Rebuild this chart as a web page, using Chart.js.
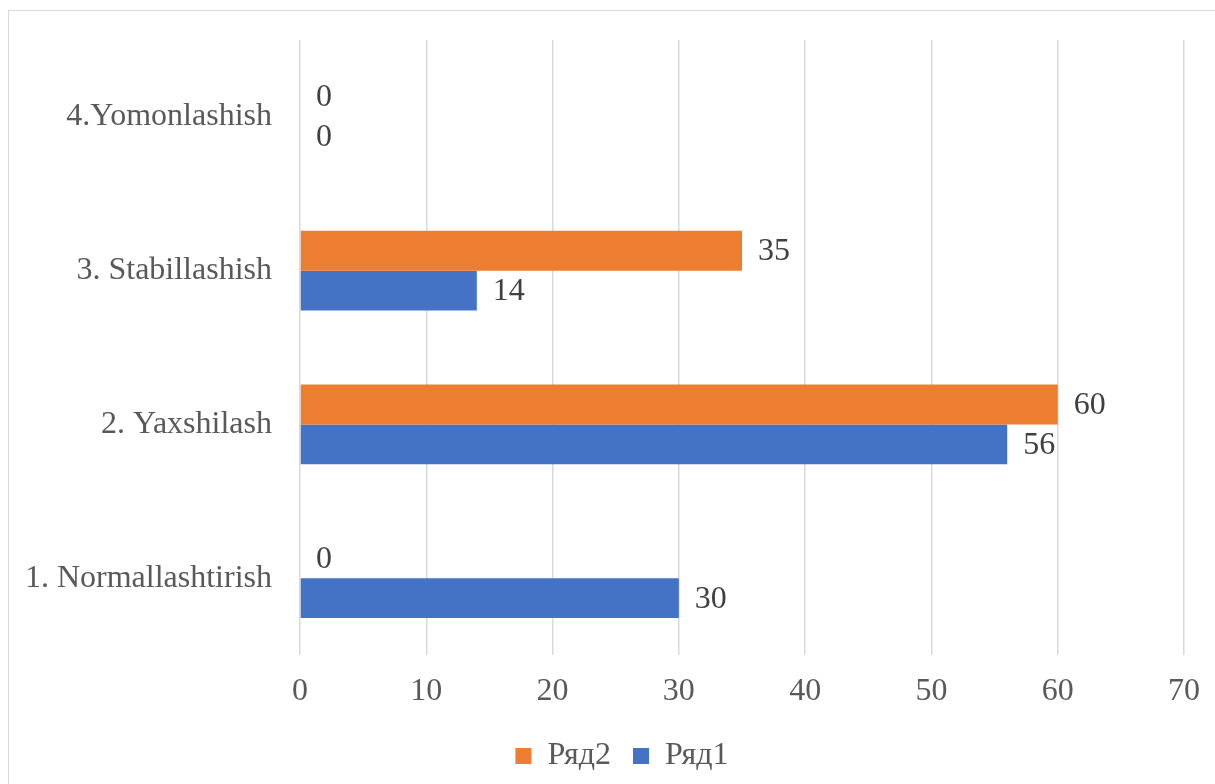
<!DOCTYPE html>
<html>
<head>
<meta charset="utf-8">
<script src="https://cdn.jsdelivr.net/npm/chart.js@4/dist/chart.umd.min.js"></script>
<style>
  html, body { margin: 0; padding: 0; background: #fff; overflow: hidden; }
  #wrap { position: relative; width: 1215px; height: 784px; }
  #frame { position: absolute; left: 8px; top: 10px; width: 1215px; height: 800px; border: 1px solid #d9d9d9; }
  canvas { position: absolute; left: 0; top: 0; }
</style>
</head>
<body>
<div id="wrap">
  <div id="frame"></div>
  <canvas id="barChart" width="1215" height="784"></canvas>
</div>
<script>
// Data (categories listed top to bottom)
var categories = ['4.Yomonlashish', '3. Stabillashish', '2. Yaxshilash', '1. Normallashtirish'];
var ryad2 = [0, 35, 60, 0];
var ryad1 = [0, 14, 56, 30];
var xTicks = [0, 10, 20, 30, 40, 50, 60, 70];

var font = "'Liberation Serif', 'Times New Roman', serif";

// value labels at bar ends
var valueLabels = {
    id: 'valueLabels',
    afterDatasetsDraw: function(chart) {
        var ctx = chart.ctx;
        ctx.save();
        ctx.font = '32px ' + font;
        ctx.fillStyle = '#404040';
        ctx.textAlign = 'left';
        ctx.textBaseline = 'middle';
        chart.data.datasets.forEach(function(ds, i) {
            chart.getDatasetMeta(i).data.forEach(function(bar, j) {
                ctx.fillText(ds.data[j], bar.x + 16, bar.y + 1);
            });
        });
        ctx.restore();
    }
};

// nudge the legend a bit right, like the original
var legendShift = {
    id: 'legendShift',
    afterLayout: function(chart) {
        if (chart.legend) {
            chart.legend.left += 30;
            chart.legend.right += 30;
        }
    }
};

var ctx = document.getElementById('barChart').getContext('2d');

var chartData = {
    labels: categories,
    datasets: [
        {
            label: 'Ряд2',
            data: ryad2,
            backgroundColor: '#ED7D31',
            categoryPercentage: 0.52,
            barPercentage: 1
        },
        {
            label: 'Ряд1',
            data: ryad1,
            backgroundColor: '#4472C4',
            categoryPercentage: 0.52,
            barPercentage: 1
        }
    ]
};

var chartOptions = {
    indexAxis: 'y',
    responsive: false,
    animation: false,
    layout: {
        padding: { top: 40, right: 31, left: 0, bottom: 2 }
    },
    scales: {
        x: {
            min: 0,
            max: 70,
            afterBuildTicks: function(scale) {
                scale.ticks = xTicks.map(function(v) { return { value: v }; });
            },
            afterFit: function(scale) {
                scale.height = 63;
                scale.paddingLeft = 0;
                scale.paddingRight = 0;
            },
            grid: { color: '#d9d9d9', lineWidth: 1.5, drawTicks: false },
            border: { display: false },
            ticks: {
                padding: 17,
                color: '#595959',
                font: { family: font, size: 32 }
            }
        },
        y: {
            afterFit: function(scale) {
                scale.width = 300;
                scale.paddingTop = 0;
                scale.paddingBottom = 0;
            },
            grid: { display: false, drawTicks: false },
            border: { display: false },
            ticks: {
                padding: 28,
                color: '#595959',
                font: { family: font, size: 32 }
            }
        }
    },
    plugins: {
        legend: {
            position: 'bottom',
            labels: {
                boxWidth: 16,
                boxHeight: 16,
                padding: 22,
                color: '#595959',
                font: { family: font, size: 32 }
            }
        },
        tooltip: { enabled: false }
    }
};

var barChart = new Chart(ctx, {
    type: 'bar',
    data: chartData,
    options: chartOptions,
    plugins: [valueLabels, legendShift]
});
</script>
</body>
</html>
